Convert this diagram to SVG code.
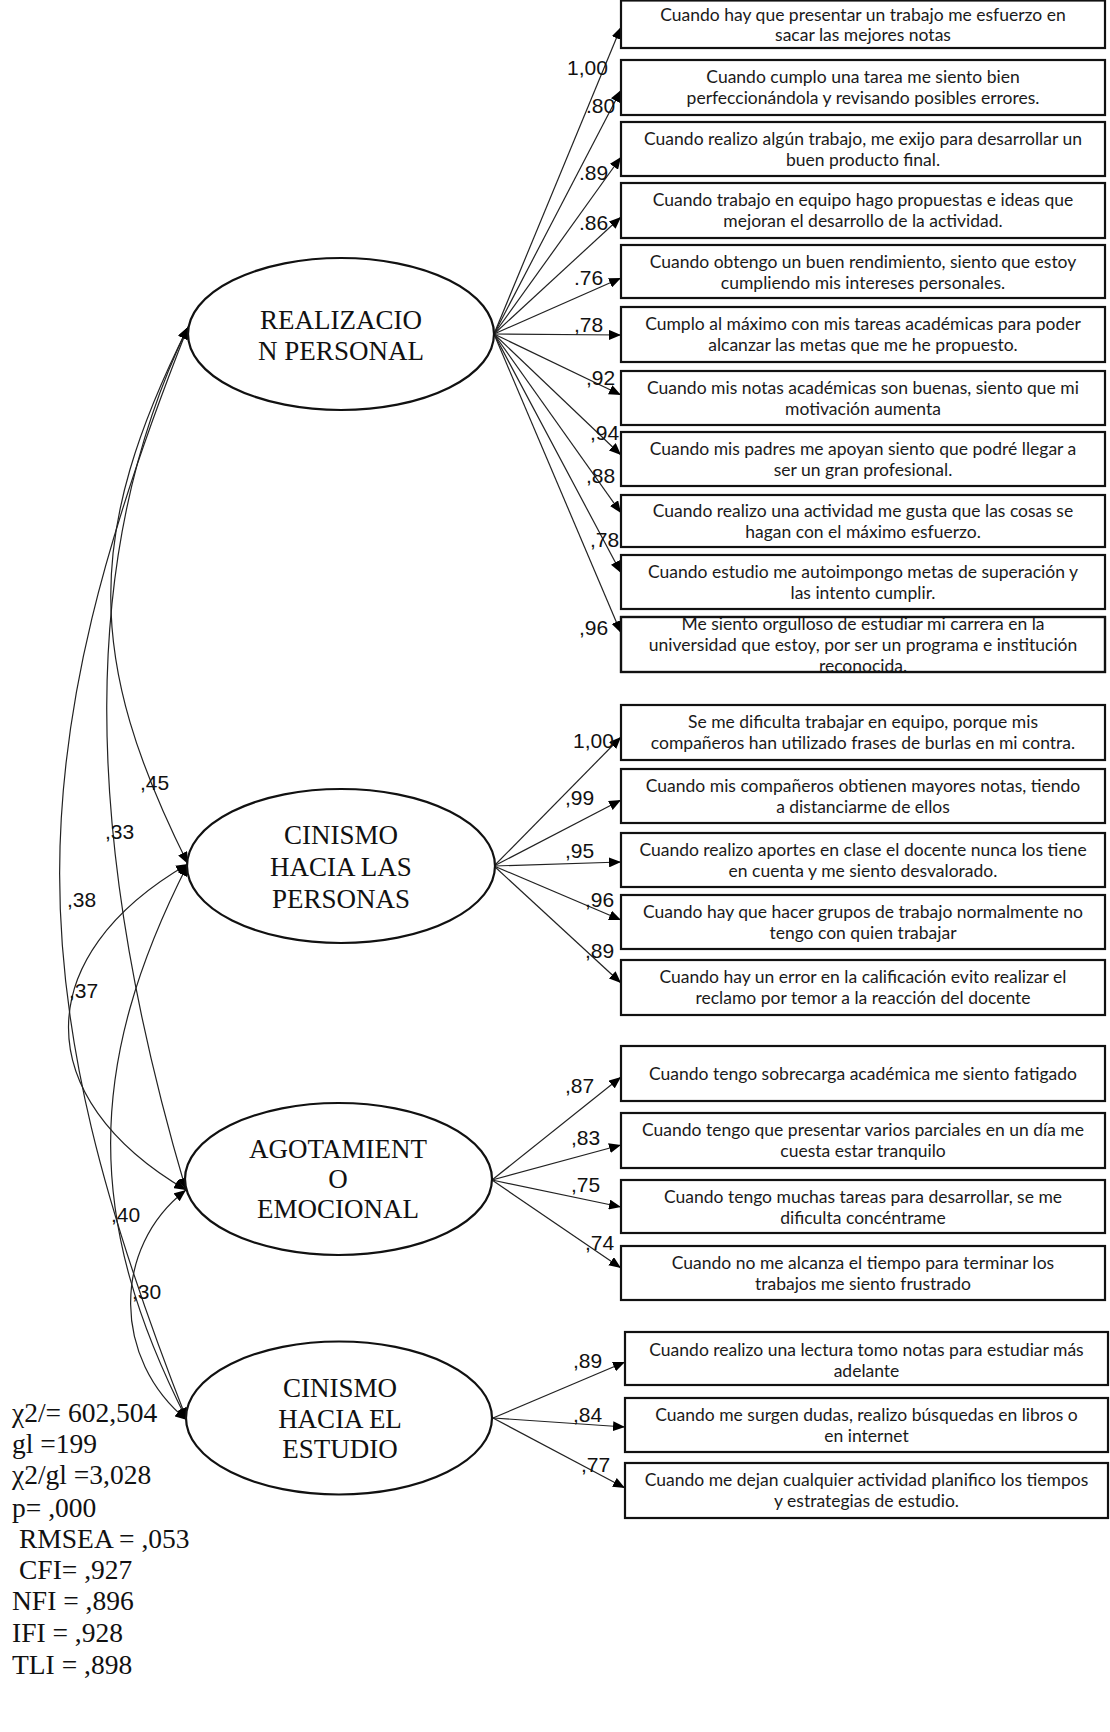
<svg xmlns="http://www.w3.org/2000/svg" width="1110" height="1732" viewBox="0 0 1110 1732">
<style>
.box{fill:#fff;stroke:#111;stroke-width:2.2}
.lat{fill:#fff;stroke:#111;stroke-width:2.2}
.it{font-family:Lato,"Noto Sans",sans-serif;font-size:17.5px;fill:#1a1a1a;text-anchor:middle}
.fn{font-family:"Liberation Serif","Times New Roman",serif;font-size:27px;fill:#111;text-anchor:middle}
.lb{font-family:"Liberation Sans",Arial,sans-serif;font-size:21px;fill:#111}
.st{font-family:"Liberation Serif","Times New Roman",serif;font-size:27.5px;fill:#111}
.ar{fill:none;stroke:#222;stroke-width:1.2;marker-end:url(#ah)}
.cv{fill:none;stroke:#222;stroke-width:1.2;marker-end:url(#ah);marker-start:url(#ah)}
</style>
<defs>
<marker id="ah" viewBox="0 0 12 10" refX="12" refY="5" markerWidth="12" markerHeight="10" markerUnits="userSpaceOnUse" orient="auto-start-reverse"><path d="M0,0 L12,5 L0,10 z" fill="#000"/></marker>
<clipPath id="c11"><rect x="621" y="617" width="484" height="55"/></clipPath>
</defs>
<rect width="1110" height="1732" fill="#fff"/>

<g id="connectors">
<path class="ar" d="M494,334 L621,27"/>
<path class="ar" d="M494,334 L621,90"/>
<path class="ar" d="M494,334 L621,157"/>
<path class="ar" d="M494,334 L621,217"/>
<path class="ar" d="M494,334 L621,278"/>
<path class="ar" d="M494,334 L621,335"/>
<path class="ar" d="M494,334 L621,395"/>
<path class="ar" d="M494,334 L621,455"/>
<path class="ar" d="M494,334 L621,513"/>
<path class="ar" d="M494,334 L621,573"/>
<path class="ar" d="M494,334 L621,633"/>
<path class="ar" d="M494,866 L621,737"/>
<path class="ar" d="M494,866 L621,800"/>
<path class="ar" d="M494,866 L621,862"/>
<path class="ar" d="M494,866 L621,920"/>
<path class="ar" d="M494,866 L621,983"/>
<path class="ar" d="M492,1180 L621,1077"/>
<path class="ar" d="M492,1180 L621,1145"/>
<path class="ar" d="M492,1180 L621,1207"/>
<path class="ar" d="M492,1180 L621,1268"/>
<path class="ar" d="M493,1418 L625,1362"/>
<path class="ar" d="M493,1418 L625,1427"/>
<path class="ar" d="M493,1418 L625,1488"/>
<path class="cv" d="M188,327 C17,758 17,988 187,1420"/>
<path class="cv" d="M188,327 C81,548 79,828 186,1190"/>
<path class="cv" d="M188,327 C85,534 85,658 188,864"/>
<path class="cv" d="M188,864 C29,956 29,1098 186,1190"/>
<path class="cv" d="M188,864 C85,1066 85,1220 187,1420"/>
<path class="cv" d="M186,1190 C111,1248 113,1360 187,1420"/>
</g>

<g id="connector-labels">
<text class="lb" x="567" y="75">1,00</text>
<text class="lb" x="586" y="113">.80</text>
<text class="lb" x="579" y="180">.89</text>
<text class="lb" x="579" y="230">.86</text>
<text class="lb" x="574" y="285">.76</text>
<text class="lb" x="574" y="332">,78</text>
<text class="lb" x="586" y="385">,92</text>
<text class="lb" x="590" y="440">,94</text>
<text class="lb" x="586" y="483">,88</text>
<text class="lb" x="590" y="547">,78</text>
<text class="lb" x="579" y="635">,96</text>
<text class="lb" x="573" y="748">1,00</text>
<text class="lb" x="565" y="805">,99</text>
<text class="lb" x="565" y="858">,95</text>
<text class="lb" x="585" y="907">,96</text>
<text class="lb" x="585" y="958">,89</text>
<text class="lb" x="565" y="1093">,87</text>
<text class="lb" x="571" y="1145">,83</text>
<text class="lb" x="571" y="1192">,75</text>
<text class="lb" x="585" y="1250">,74</text>
<text class="lb" x="573" y="1368">,89</text>
<text class="lb" x="573" y="1422">,84</text>
<text class="lb" x="581" y="1472">,77</text>
<text class="lb" x="140" y="790">,45</text>
<text class="lb" x="105" y="839">,33</text>
<text class="lb" x="67" y="907">,38</text>
<text class="lb" x="69" y="998">,37</text>
<text class="lb" x="111" y="1222">,40</text>
<text class="lb" x="132" y="1299">,30</text>
</g>

<g id="f1"><ellipse class="lat" cx="341" cy="334" rx="153" ry="76"/><text class="fn" x="341" y="329">REALIZACIO</text><text class="fn" x="341" y="360">N PERSONAL</text></g>
<g id="f2"><ellipse class="lat" cx="341" cy="866" rx="154" ry="77"/><text class="fn" x="341" y="844">CINISMO</text><text class="fn" x="341" y="876">HACIA LAS</text><text class="fn" x="341" y="908">PERSONAS</text></g>
<g id="f3"><ellipse class="lat" cx="338.5" cy="1179" rx="153.5" ry="76"/><text class="fn" x="338" y="1158">AGOTAMIENT</text><text class="fn" x="338" y="1188">O</text><text class="fn" x="338" y="1218">EMOCIONAL</text></g>
<g id="f4"><ellipse class="lat" cx="339" cy="1418" rx="153" ry="76.5"/><text class="fn" x="340" y="1397">CINISMO</text><text class="fn" x="340" y="1428">HACIA EL</text><text class="fn" x="340" y="1458">ESTUDIO</text></g>

<g id="item1"><rect class="box" x="621" y="0.5" width="484" height="47.5"/><text class="it" x="863" y="21">Cuando hay que presentar un trabajo me esfuerzo en</text><text class="it" x="863" y="41">sacar las mejores notas</text></g>
<g id="item2"><rect class="box" x="621" y="60" width="484" height="55"/><text class="it" x="863" y="83">Cuando cumplo una tarea me siento bien</text><text class="it" x="863" y="104">perfeccionándola y revisando posibles errores.</text></g>
<g id="item3"><rect class="box" x="621" y="122" width="484" height="54"/><text class="it" x="863" y="145">Cuando realizo algún trabajo, me exijo para desarrollar un</text><text class="it" x="863" y="166">buen producto final.</text></g>
<g id="item4"><rect class="box" x="621" y="183" width="484" height="55"/><text class="it" x="863" y="206">Cuando trabajo en equipo hago propuestas e ideas que</text><text class="it" x="863" y="227">mejoran el desarrollo de la actividad.</text></g>
<g id="item5"><rect class="box" x="621" y="245" width="484" height="53"/><text class="it" x="863" y="268">Cuando obtengo un buen rendimiento, siento que estoy</text><text class="it" x="863" y="289">cumpliendo mis intereses personales.</text></g>
<g id="item6"><rect class="box" x="621" y="307" width="484" height="55"/><text class="it" x="863" y="330">Cumplo al máximo con mis tareas académicas para poder</text><text class="it" x="863" y="351">alcanzar las metas que me he propuesto.</text></g>
<g id="item7"><rect class="box" x="621" y="371" width="484" height="54"/><text class="it" x="863" y="394">Cuando mis notas académicas son buenas, siento que mi</text><text class="it" x="863" y="415">motivación aumenta</text></g>
<g id="item8"><rect class="box" x="621" y="432" width="484" height="54"/><text class="it" x="863" y="455">Cuando mis padres me apoyan siento que podré llegar a</text><text class="it" x="863" y="476">ser un gran profesional.</text></g>
<g id="item9"><rect class="box" x="621" y="495" width="484" height="52"/><text class="it" x="863" y="517">Cuando realizo una actividad me gusta que las cosas se</text><text class="it" x="863" y="538">hagan con el máximo esfuerzo.</text></g>
<g id="item10"><rect class="box" x="621" y="555" width="484" height="54"/><text class="it" x="863" y="578">Cuando estudio me autoimpongo metas de superación y</text><text class="it" x="863" y="599">las intento cumplir.</text></g>
<g id="item11"><rect class="box" x="621" y="617" width="484" height="55"/><g clip-path="url(#c11)"><text class="it" x="863" y="630">Me siento orgulloso de estudiar mi carrera en la</text><text class="it" x="863" y="651">universidad que estoy, por ser un programa e institución</text><text class="it" x="863" y="672">reconocida.</text></g><rect x="621" y="617" width="484" height="55" fill="none" stroke="#111" stroke-width="2.2"/></g>
<g id="item12"><rect class="box" x="621" y="705" width="484" height="55"/><text class="it" x="863" y="728">Se me dificulta trabajar en equipo, porque mis</text><text class="it" x="863" y="749">compañeros han utilizado frases de burlas en mi contra.</text></g>
<g id="item13"><rect class="box" x="621" y="769" width="484" height="54"/><text class="it" x="863" y="792">Cuando mis compañeros obtienen mayores notas, tiendo</text><text class="it" x="863" y="813">a distanciarme de ellos</text></g>
<g id="item14"><rect class="box" x="621" y="833" width="484" height="54"/><text class="it" x="863" y="856">Cuando realizo aportes en clase el docente nunca los tiene</text><text class="it" x="863" y="877">en cuenta y me siento desvalorado.</text></g>
<g id="item15"><rect class="box" x="621" y="895" width="484" height="54"/><text class="it" x="863" y="918">Cuando hay que hacer grupos de trabajo normalmente no</text><text class="it" x="863" y="939">tengo con quien trabajar</text></g>
<g id="item16"><rect class="box" x="621" y="960" width="484" height="55"/><text class="it" x="863" y="983">Cuando hay un error en la calificación evito realizar el</text><text class="it" x="863" y="1004">reclamo por temor a la reacción del docente</text></g>
<g id="item17"><rect class="box" x="621" y="1046" width="484" height="55"/><text class="it" x="863" y="1080">Cuando tengo sobrecarga académica me siento fatigado</text></g>
<g id="item18"><rect class="box" x="621" y="1113" width="484" height="55"/><text class="it" x="863" y="1136">Cuando tengo que presentar varios parciales en un día me</text><text class="it" x="863" y="1157">cuesta estar tranquilo</text></g>
<g id="item19"><rect class="box" x="621" y="1180" width="484" height="53"/><text class="it" x="863" y="1203">Cuando tengo muchas tareas para desarrollar, se me</text><text class="it" x="863" y="1224">dificulta concéntrame</text></g>
<g id="item20"><rect class="box" x="621" y="1246" width="484" height="54"/><text class="it" x="863" y="1269">Cuando no me alcanza el tiempo para terminar los</text><text class="it" x="863" y="1290">trabajos me siento frustrado</text></g>
<g id="item21"><rect class="box" x="625" y="1332" width="483" height="53"/><text class="it" x="866.5" y="1356">Cuando realizo una lectura tomo notas para estudiar más</text><text class="it" x="866.5" y="1377">adelante</text></g>
<g id="item22"><rect class="box" x="625" y="1398" width="483" height="54"/><text class="it" x="866.5" y="1421">Cuando me surgen dudas, realizo búsquedas en libros o</text><text class="it" x="866.5" y="1442">en internet</text></g>
<g id="item23"><rect class="box" x="625" y="1463" width="483" height="55"/><text class="it" x="866.5" y="1486">Cuando me dejan cualquier actividad planifico los tiempos</text><text class="it" x="866.5" y="1507">y estrategias de estudio.</text></g>

<g id="fit-indices">
<text class="st" x="12" y="1422">χ2/= 602,504</text>
<text class="st" x="12" y="1453">gl =199</text>
<text class="st" x="12" y="1484">χ2/gl =3,028</text>
<text class="st" x="12" y="1517">p= ,000</text>
<text class="st" x="19" y="1548">RMSEA = ,053</text>
<text class="st" x="19" y="1579">CFI= ,927</text>
<text class="st" x="12" y="1610">NFI = ,896</text>
<text class="st" x="12" y="1642">IFI = ,928</text>
<text class="st" x="12" y="1674">TLI = ,898</text>
</g>
</svg>
